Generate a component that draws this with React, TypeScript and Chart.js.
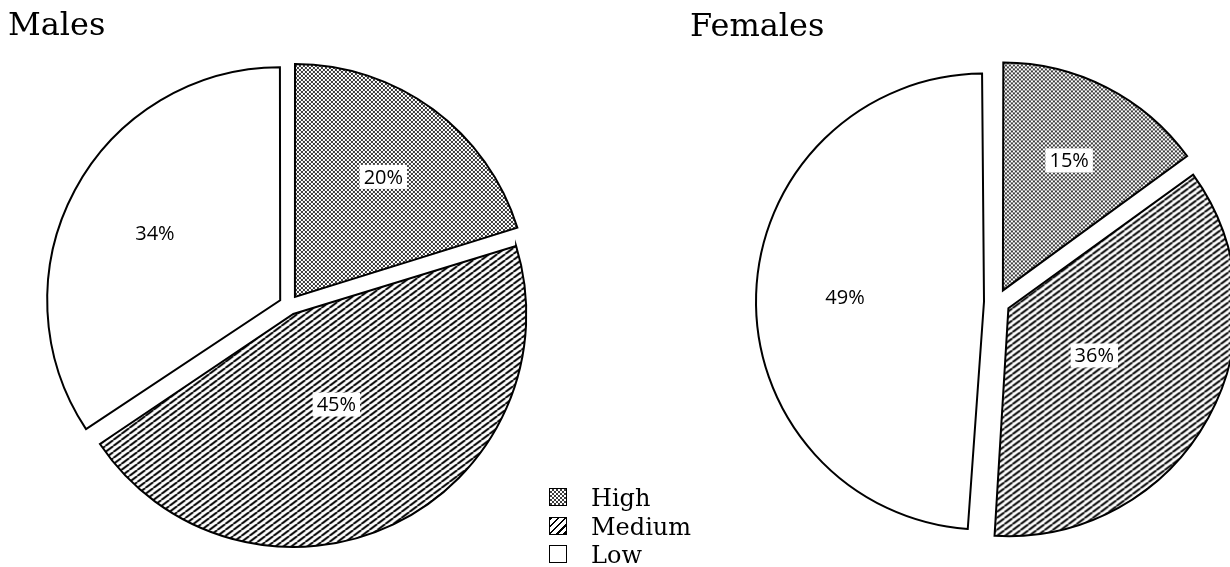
import React, { useEffect, useRef } from "react";
import { Chart, registerables } from "chart.js";

Chart.register(...registerables);

// ---- data ----
const categories = ["High", "Medium", "Low"];
const malesValues = [20, 45, 34];
const femalesValues = [15, 36, 49];
const chartTitles = ["Males", "Females"];

// ---- style ----
const labelRadiusFraction = [0.64, 0.43, 0.61];
const LABEL_FONT = '20px "Open Sans", "DejaVu Sans", sans-serif';
const SERIF = '"DejaVu Serif", serif';
const STIPPLE_INK = "#3c3c3c";

function makePatterns(ctx: CanvasRenderingContext2D) {
  const s = document.createElement("canvas");
  s.width = 4;
  s.height = 4;
  const sg = s.getContext("2d")!;
  sg.fillStyle = "#ffffff";
  sg.fillRect(0, 0, 4, 4);
  sg.fillStyle = STIPPLE_INK;
  sg.fillRect(0, 0, 2, 2);
  sg.fillRect(2, 2, 2, 2);

  const h = document.createElement("canvas");
  h.width = 8;
  h.height = 6;
  const hg = h.getContext("2d")!;
  hg.fillStyle = "#ffffff";
  hg.fillRect(0, 0, 8, 6);
  hg.strokeStyle = "#000000";
  hg.lineWidth = 2;
  for (const dx of [-8, 0, 8]) {
    hg.beginPath();
    hg.moveTo(dx, 6);
    hg.lineTo(dx + 8, 0);
    hg.stroke();
  }
  return {
    stipple: ctx.createPattern(s, "repeat")!,
    hatch: ctx.createPattern(h, "repeat")!,
  };
}

// Chart.js grows the radius of an offset arc; undo that so every slice only shifts.
const explodeFix = {
  id: "explodeFix",
  afterDatasetUpdate(chart: any, args: any, opts: any) {
    const d = opts.distance || 0;
    const meta = chart.getDatasetMeta(args.index);
    meta.data.forEach((arc: any) => {
      const fix = 1 - Math.sin(Math.min(Math.PI, arc.circumference || 0));
      arc.outerRadius = arc.outerRadius - d * fix;
    });
  },
};

const sliceLabels = {
  id: "sliceLabels",
  afterDatasetsDraw(chart: any, _args: any, opts: any) {
    const ctx: CanvasRenderingContext2D = chart.ctx;
    const meta = chart.getDatasetMeta(0);
    const values = chart.data.datasets[0].data as number[];
    ctx.save();
    ctx.font = LABEL_FONT;
    ctx.textAlign = "center";
    ctx.textBaseline = "middle";
    meta.data.forEach((arc: any, i: number) => {
      const mid = (arc.startAngle + arc.endAngle) / 2;
      const dist = opts.distance + labelRadiusFraction[i] * opts.radius;
      const px = arc.x + Math.cos(mid) * dist;
      const py = arc.y + Math.sin(mid) * dist;
      const text = values[i] + "%";
      const w = ctx.measureText(text).width;
      ctx.fillStyle = "#ffffff";
      ctx.fillRect(px - w / 2 - 4, py - 12, w + 8, 24);
      ctx.fillStyle = "#000000";
      ctx.fillText(text, px, py + 1);
    });
    ctx.restore();
  },
};

function PieChart(props: { values: number[]; radius: number; explode: number; left: number; top: number; size: number }) {
  const ref = useRef<HTMLCanvasElement>(null);
  const { values, radius, explode, left, top, size } = props;
  useEffect(() => {
    const canvas = ref.current!;
    const ctx = canvas.getContext("2d")!;
    const { stipple, hatch } = makePatterns(ctx);
    const chart = new Chart(canvas, {
      type: "pie",
      data: {
        labels: categories,
        datasets: [
          {
            data: values,
            backgroundColor: [stipple, hatch, "#ffffff"],
            borderColor: "#000000",
            borderWidth: 2,
            borderJoinStyle: "miter",
            offset: 4 * explode,
            radius: radius,
          } as any,
        ],
      },
      options: {
        responsive: false,
        maintainAspectRatio: false,
        animation: false,
        events: [],
        radius: radius,
        layout: { padding: 0 },
        plugins: {
          legend: { display: false },
          tooltip: { enabled: false },
          explodeFix: { distance: explode },
          sliceLabels: { distance: explode, radius: radius },
        } as any,
      } as any,
      plugins: [explodeFix, sliceLabels],
    });
    return () => chart.destroy();
  }, []);
  return (
    <canvas
      ref={ref}
      width={size}
      height={size}
      style={{ position: "absolute", left, top, width: size, height: size }}
    />
  );
}

function LegendBox({ kind }: { kind: number }) {
  const base: React.CSSProperties = {
    position: "absolute",
    left: 0,
    top: 4,
    width: 16,
    height: 16,
    border: "1.6px solid #000",
    background: "#fff",
  };
  if (kind === 0) {
    base.background = `repeating-conic-gradient(${STIPPLE_INK} 0 25%, #ffffff 0 50%) 0 0 / 4px 4px`;
  } else if (kind === 1) {
    base.background = "repeating-linear-gradient(135deg, #000 0 2px, #fff 2px 5px)";
  }
  return <div style={base} />;
}

export default function App() {
  return (
    <div
      style={{
        position: "fixed",
        left: 0,
        top: 0,
        width: 1230,
        height: 567,
        overflow: "hidden",
        background: "#ffffff",
      }}
    >
      <PieChart values={malesValues} radius={233} explode={10} left={-11} top={5} size={600} />
      <PieChart values={femalesValues} radius={228} explode={13} left={697} top={2} size={600} />
      <div style={{ position: "absolute", left: 8, top: 4, font: `32px/40px ${SERIF}`, color: "#000" }}>
        {chartTitles[0]}
      </div>
      <div style={{ position: "absolute", left: 690, top: 5, font: `32px/40px ${SERIF}`, color: "#000" }}>
        {chartTitles[1]}
      </div>
      {categories.map((c, i) => (
        <div
          key={c}
          style={{
            position: "absolute",
            left: 549,
            top: 484 + i * 28.5,
            height: 28,
            font: `24px/28px ${SERIF}`,
            color: "#000",
            whiteSpace: "nowrap",
          }}
        >
          <LegendBox kind={i} />
          <span style={{ position: "absolute", left: 42, top: 0 }}>{c}</span>
        </div>
      ))}
    </div>
  );
}
